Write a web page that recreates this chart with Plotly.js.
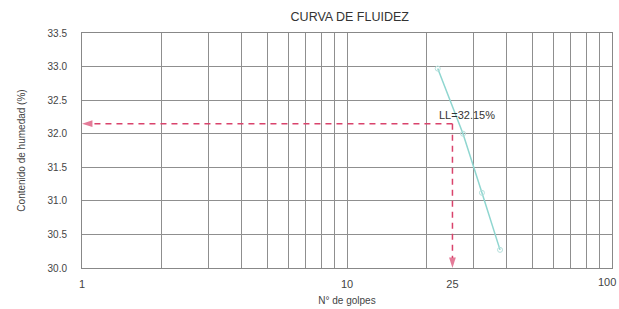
<!DOCTYPE html>
<html><head><meta charset="utf-8">
<script src="https://cdn.plot.ly/plotly-3.0.1.min.js"></script>
<style>html,body{margin:0;padding:0;background:#fff}#chart{width:619px;height:309px}</style>
</head><body><div id="chart"></div>
<script>
// Data
const golpes = [22, 27.4, 32.3, 37.8];
const humedad = [32.97, 32.0, 31.12, 30.27];
const LL_golpes = 25;
const LL_valor = 32.15;
const xMin = 1, xMax = 100;
const yMin = 30.0, yMax = 33.5;
const xTickVals = [1, 10, 25];
const xTickText = ['1', '10', '25'];
const xGrid = [2,3,4,5,6,7,8,9,10,20,30,40,50,60,70,80,90];

const red = '#d9436c';
const traces = [
  {x: golpes, y: humedad, mode: 'lines+markers', type: 'scatter',
   line: {color: '#8fd6d0', width: 1.5},
   marker: {symbol: 'circle-open', size: 5, color: '#b5e0dc'}, cliponaxis: false},
  {x: [LL_golpes, xMin], y: [LL_valor, LL_valor], mode: 'lines+markers', type: 'scatter',
   line: {color: red, width: 1.5, dash: '6px,5px'},
   marker: {symbol: 'arrow', angleref: 'previous', size: [1, 11], color: red, line: {width: 0}}, cliponaxis: false},
  {x: [LL_golpes, LL_golpes], y: [LL_valor, yMin], mode: 'lines+markers', type: 'scatter',
   line: {color: red, width: 1.5, dash: '6px,5px'},
   marker: {symbol: 'arrow', angleref: 'previous', size: [1, 11], color: red, line: {width: 0}}, cliponaxis: false}
];

const layout = {
  width: 619, height: 309,
  margin: {l: 82, r: 7, t: 33, b: 41},
  paper_bgcolor: '#fff', plot_bgcolor: '#fff',
  showlegend: false,
  font: {family: 'Liberation Sans, Arial, sans-serif', size: 10, color: '#444'},
  title: {text: 'CURVA DE FLUIDEZ', x: 0.565, xanchor: 'center', y: 0.945, yanchor: 'middle',
          font: {size: 12.5, color: '#333'}},
  xaxis: {type: 'log', range: [Math.log10(xMin), Math.log10(xMax)],
          tickmode: 'array', tickvals: xTickVals, ticktext: xTickText,
          showgrid: false, zeroline: false, showline: true, linecolor: '#888', mirror: true,
          ticks: '', ticklabelstandoff: 6, tickfont: {size: 11, color: '#444'},
          minor: {tickmode: 'array', tickvals: xGrid, showgrid: true, gridcolor: '#8f8f8f', gridwidth: 1, ticks: ''},
          title: {text: 'N° de golpes', standoff: 7, font: {size: 10, color: '#444'}}},
  yaxis: {range: [yMin, yMax], dtick: 0.5, tick0: 30, tickformat: '.1f',
          showgrid: true, gridcolor: '#8f8f8f', gridwidth: 1, zeroline: false,
          showline: true, linecolor: '#888', mirror: true, ticks: '',
          ticklabelstandoff: 12, tickfont: {size: 10, color: '#444'},
          title: {text: 'Contenido de humedad (%)', standoff: 20, font: {size: 10, color: '#444'}}},
  annotations: [
    {x: Math.log10(LL_golpes), y: LL_valor, xref: 'x', yref: 'y',
     text: 'LL=' + LL_valor.toFixed(2) + '%', showarrow: false,
     xanchor: 'left', yanchor: 'bottom', xshift: -15, yshift: 1,
     font: {size: 11, color: '#333'}},
    {x: Math.log10(xMax), y: 0, xref: 'x', yref: 'paper',
     text: String(xMax), showarrow: false, xanchor: 'right', yanchor: 'top', xshift: 6, yshift: -6,
     font: {size: 11, color: '#444'}}
  ]
};
Plotly.newPlot('chart', traces, layout, {displayModeBar: false, staticPlot: true});
</script></body></html>
